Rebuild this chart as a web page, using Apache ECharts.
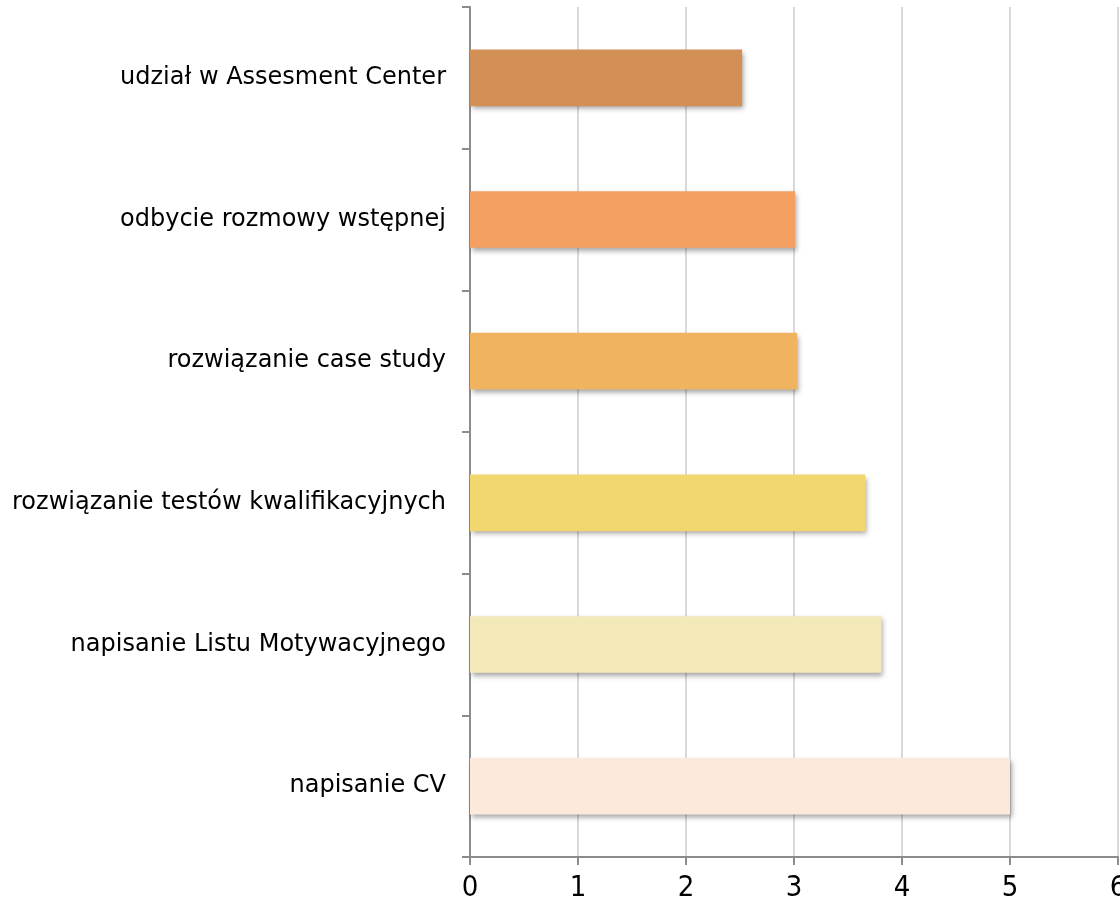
<!DOCTYPE html>
<html><head><meta charset="utf-8">
<script src="https://cdn.jsdelivr.net/npm/echarts@6/dist/echarts.min.js"></script>
<style>html,body{margin:0;padding:0;background:#fff;overflow:hidden}#c{width:1120px;height:902px}</style>
</head><body><div id="c"></div>
<script>
const categories = ["napisanie CV","napisanie Listu Motywacyjnego","rozwiązanie testów kwalifikacyjnych","rozwiązanie case study","odbycie rozmowy wstępnej","udział w Assesment Center"];
const values = [5.0, 3.81, 3.66, 3.03, 3.01, 2.52];
const barColors = ["#FCE9DC","#F3E8B8","#F2D66E","#F0B461","#F3A062","#D29057"];
const xTicks = [0,1,2,3,4,5,6];

const chart = echarts.init(document.getElementById('c'), null, {width:1120, height:902});
chart.setOption({
  animation:false,
  grid:{left:470,width:648,top:7,height:850,containLabel:false,outerBoundsMode:'none'},
  xAxis:{type:'value',min:xTicks[0],max:xTicks[xTicks.length-1],interval:1,
    axisLine:{show:true,lineStyle:{color:'#8c8c8c',width:2}},
    axisTick:{show:true,length:8,lineStyle:{color:'#8c8c8c',width:2}},
    axisLabel:{color:'#000',fontSize:29,fontFamily:'DejaVu Sans Condensed',margin:17,hideOverlap:false},
    splitLine:{show:true,lineStyle:{color:'#d9d9d9',width:2}}},
  yAxis:{type:'category',data:categories,
    axisLine:{show:true,lineStyle:{color:'#8c8c8c',width:2}},
    axisTick:{show:true,length:8,lineStyle:{color:'#8c8c8c',width:2}},
    axisLabel:{color:'#000',fontSize:24,fontFamily:'DejaVu Sans',margin:24}},
  series:[{type:'bar',barWidth:'40%',
    data:values.map((v,i)=>({value:v,itemStyle:{color:barColors[i]}})),
    itemStyle:{shadowColor:'rgba(0,0,0,0.35)',shadowBlur:5,shadowOffsetX:2,shadowOffsetY:3}}]
});
</script></body></html>
